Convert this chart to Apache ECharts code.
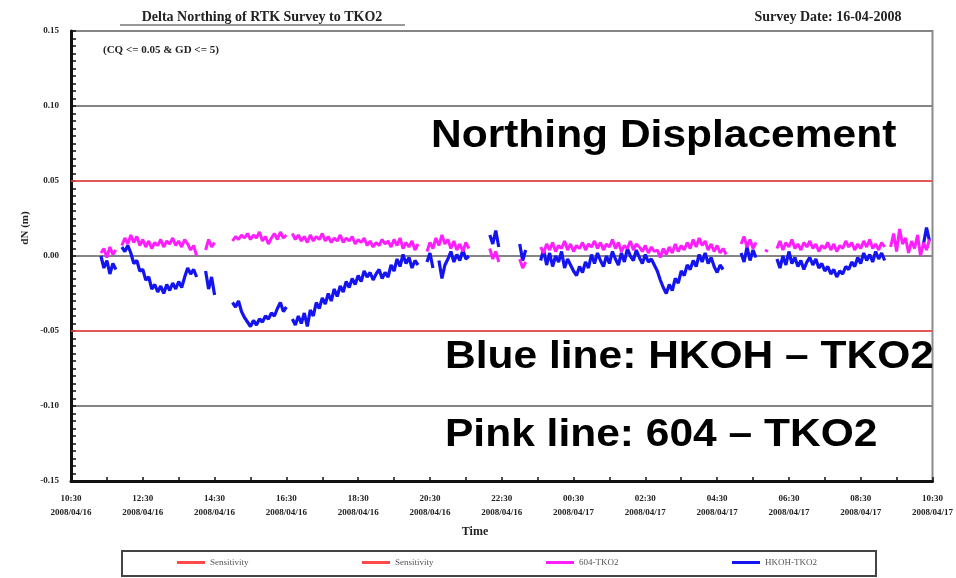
<!DOCTYPE html>
<html>
<head>
<meta charset="utf-8">
<script src="https://cdn.jsdelivr.net/npm/echarts@6/dist/echarts.min.js"></script>
<style>
  html, body { margin: 0; padding: 0; background: #ffffff; }
  #chart { width: 956px; height: 578px; }
</style>
</head>
<body>
<div id="chart"></div>
<script>
// Time axis: one label every two hours from 10:30 on 16 April to 10:30 on 17 April
const tickTimes = ['10:30', '12:30', '14:30', '16:30', '18:30', '20:30', '22:30',
                   '00:30', '02:30', '04:30', '06:30', '08:30', '10:30'];
const tickDates = ['2008/04/16', '2008/04/16', '2008/04/16', '2008/04/16', '2008/04/16', '2008/04/16', '2008/04/16',
                   '2008/04/17', '2008/04/17', '2008/04/17', '2008/04/17', '2008/04/17', '2008/04/17'];
const tickStepHours = 2;

// Epoch spacing of the RTK solutions, minutes (first epoch at 10:30)
const sampleMinutes = 5;

// Sensitivity band, metres
const sensitivityUpper = 0.05;
const sensitivityLower = -0.05;

// dN of HKOH relative to TKO2, millimetres, one row per hour; null = no fixed solution
const hkohTko2 = [
  null, null, null, null, null, null, null, null, null, null, 0, -8,
  -3, -12, -5, -9, null, 6, 3, 7, 2, -5, -3, -10,
  -9, -16, -14, -22, -19, -24, -20, -25, -19, -23, -18, -22,
  -17, -21, -14, -8, -12, -9, -14, null, null, -10, -22, -14,
  -26, null, null, null, null, null, -31, -34, -30, -37, -41, -44,
  -47, -43, -46, -42, -44, -40, -42, -38, -40, -35, -31, -37,
  -34, null, -42, -46, -40, -45, -38, -47, -36, -40, -31, -35,
  -28, -32, -25, -30, -22, -27, -20, -24, -17, -21, -15, -19,
  -13, -17, -10, -14, -11, -16, -12, -9, -15, -11, -14, -6,
  -10, -2, -7, 1, -5, -1, -8, -3, -6, null, null, -4,
  2, -8, null, -3, -15, -6, -2, 3, -4, 1, -3, 4,
  -2, 0, null, null, null, null, null, null, 14, 8, 17, 6,
  null, null, null, null, null, null, 8, -3, 4, null, null, null,
  null, -3, 4, -6, 2, -7, 0, -4, 3, -8, -2, -6,
  -10, -13, -7, -11, -4, -8, 1, -5, 2, -3, -7, 0,
  -5, 3, -2, -6, 2, -4, 5, 0, -3, 4, -1, -5,
  1, -4, -2, -6, -10, -16, -21, -25, -19, -23, -15, -18,
  -10, -13, -6, -9, -3, -7, 1, -4, 2, -5, -1, -7,
  -11, -6, -9, null, null, null, null, null, 2, -4, 6, -3,
  4, -1, null, null, null, null, null, null, -2, -8, 0, -6,
  3, -5, -1, -7, -3, -9, -4, -1, -6, -2, -8, -5,
  -10, -7, -12, -9, -14, -10, -12, -7, -9, -4, -7, -1,
  -5, 2, -3, 1, -4, 3, -2, 2, -3, null, null, null,
  null, null, null, null, null, null, null, null, null, 8, 19, 10,
  null
];

// dN of 604 relative to TKO2, millimetres, one row per hour
const s604Tko2 = [
  null, null, null, null, null, null, null, null, null, null, 2, 5,
  -1, 6, 1, 4, null, 7, 12, 8, 14, 9, 13, 7,
  11, 6, 10, 5, 9, 7, 11, 6, 10, 8, 12, 7,
  10, 6, 11, 8, 4, 7, 0, null, null, 4, 11, 6,
  9, null, null, null, null, null, 10, 13, 11, 14, 12, 15,
  11, 14, 12, 16, 10, 13, 8, 12, 15, 11, 16, 12,
  14, null, 15, 11, 14, 10, 13, 9, 14, 10, 13, 11,
  15, 10, 13, 9, 12, 10, 14, 9, 12, 10, 13, 8,
  11, 9, 12, 7, 10, 6, 9, 7, 11, 8, 10, 6,
  11, 7, 12, 5, 9, 6, 10, 4, 8, null, null, 3,
  9, 5, 12, 7, 14, 8, 11, 5, 10, 4, 8, 3,
  9, 5, null, null, null, null, null, null, 5, -2, 3, -4,
  null, null, null, null, null, null, -2, -8, -4, null, null, null,
  null, 6, 2, 8, 4, 9, 3, 7, 5, 10, 4, 8,
  3, 7, 5, 9, 4, 8, 6, 10, 5, 9, 4, 8,
  6, 11, 5, 9, 3, 7, 5, 10, 4, 8, 6, 3,
  7, 2, 6, 3, 4, -1, 5, 1, 6, 2, 8, 3,
  7, 4, 9, 5, 11, 6, 12, 7, 10, 4, 8, 3,
  7, 2, 5, 1, null, null, null, null, 8, 13, 6, 11,
  5, 9, null, null, 4, 3, null, null, 5, 10, 4, 9,
  6, 11, 5, 8, 4, 9, 6, 10, 5, 8, 3, 7,
  5, 9, 4, 8, 3, 7, 5, 10, 6, 9, 4, 8,
  5, 10, 6, 11, 5, 8, 4, 9, 6, null, 6, 15,
  3, 18, 8, 12, 2, 10, 5, 14, 0, 9, 4, 11,
  null
];

const spanHours = (tickTimes.length - 1) * tickStepHours;

// [hours since start, metres]; '-' leaves a gap in the line
function toPoints(mm) {
  return mm.map((v, i) => [i * sampleMinutes / 60, v === null ? '-' : v / 1000]);
}

const SERIF = '"Liberation Serif", "DejaVu Serif", serif';
const SANS = '"Liberation Sans", Arial, sans-serif';

const chart = echarts.init(document.getElementById('chart'), null, { renderer: 'canvas' });

const legendBase = {
  top: 558,
  icon: 'rect',
  itemWidth: 28,
  itemHeight: 3,
  padding: 0,
  selectedMode: false,
  textStyle: { fontFamily: SERIF, fontSize: 9, color: '#555' }
};

chart.setOption({
  animation: false,
  backgroundColor: '#ffffff',
  grid: {
    left: 71, right: 22, top: 31, bottom: 97,
    show: true, borderColor: '#8a8a8a', borderWidth: 2
  },
  xAxis: {
    type: 'value',
    min: 0, max: spanHours, interval: tickStepHours,
    axisLine: { show: true, onZero: false, lineStyle: { color: '#111', width: 3 } },
    axisTick: { show: true, inside: true, length: 4, lineStyle: { color: '#111', width: 1.5 } },
    minorTick: { show: true, splitNumber: 2, length: 4, lineStyle: { color: '#111', width: 1.5 } },
    splitLine: { show: false },
    axisLabel: {
      margin: 11,
      fontFamily: SERIF, fontSize: 9, fontWeight: 'bold', color: '#222', lineHeight: 14,
      showMinLabel: true, showMaxLabel: true,
      formatter: v => {
        const k = Math.round(v / tickStepHours);
        return tickTimes[k] + '\n' + tickDates[k];
      }
    }
  },
  yAxis: {
    type: 'value',
    min: -0.15, max: 0.15, interval: 0.05,
    axisLine: { show: true, onZero: false, lineStyle: { color: '#111', width: 3 } },
    axisTick: { show: true, inside: true, length: 5, lineStyle: { color: '#111', width: 1.5 } },
    minorTick: { show: true, splitNumber: 10, length: 5, lineStyle: { color: '#111', width: 1.5 } },
    splitLine: { show: true, lineStyle: { color: '#858585', width: 2 } },
    axisLabel: {
      margin: 12,
      fontFamily: SERIF, fontSize: 9, fontWeight: 'bold', color: '#222',
      formatter: v => v.toFixed(2)
    }
  },
  legend: [
    Object.assign({}, legendBase, { left: 177, data: ['Sensitivity'] }),
    Object.assign({}, legendBase, { left: 362, data: ['Sensitivity'] }),
    Object.assign({}, legendBase, { left: 546, data: ['604-TKO2'] }),
    Object.assign({}, legendBase, { left: 732, data: ['HKOH-TKO2'] })
  ],
  series: [
    {
      name: 'Sensitivity', type: 'line', symbol: 'none', silent: true,
      color: '#ff4a4a', lineStyle: { width: 1.5 },
      data: [[0, sensitivityUpper], [spanHours, sensitivityUpper]], z: 3
    },
    {
      name: 'Sensitivity', type: 'line', symbol: 'none', silent: true,
      color: '#ff4a4a', lineStyle: { width: 1.5 },
      data: [[0, sensitivityLower], [spanHours, sensitivityLower]], z: 3
    },
    {
      name: 'HKOH-TKO2', type: 'line', symbol: 'none', connectNulls: false,
      color: '#1414f0', lineStyle: { width: 3.2 },
      data: toPoints(hkohTko2), z: 4
    },
    {
      name: '604-TKO2', type: 'line', symbol: 'none', connectNulls: false,
      color: '#ff1eff', lineStyle: { width: 3 },
      data: toPoints(s604Tko2), z: 5
    }
  ],
  graphic: [
    { type: 'text', x: 262, y: 17, style: { text: 'Delta Northing of RTK Survey to TKO2', font: 'bold 14px ' + SERIF, fill: '#222', align: 'center', verticalAlign: 'middle' } },
    { type: 'line', shape: { x1: 120, y1: 25, x2: 405, y2: 25 }, style: { stroke: '#333', lineWidth: 1.2 } },
    { type: 'text', x: 828, y: 17, style: { text: 'Survey Date: 16-04-2008', font: 'bold 14px ' + SERIF, fill: '#222', align: 'center', verticalAlign: 'middle' } },
    { type: 'text', x: 103, y: 50, style: { text: '(CQ <= 0.05 & GD <= 5)', font: 'bold 11px ' + SERIF, fill: '#222', align: 'left', verticalAlign: 'middle' } },
    { type: 'text', x: 25, y: 228, rotation: Math.PI / 2, style: { text: 'dN (m)', font: 'bold 11px ' + SERIF, fill: '#222', align: 'center', verticalAlign: 'middle' } },
    { type: 'text', x: 475, y: 532, style: { text: 'Time', font: 'bold 12px ' + SERIF, fill: '#222', align: 'center', verticalAlign: 'middle' } },
    { type: 'text', x: 431, y: 136, scaleX: 1.09, z: 10, style: { text: 'Northing Displacement', font: 'bold 39px ' + SANS, fill: '#000', align: 'left', verticalAlign: 'middle' } },
    { type: 'text', x: 445, y: 357, scaleX: 1.09, z: 10, style: { text: 'Blue line: HKOH \u2013 TKO2', font: 'bold 39px ' + SANS, fill: '#000', align: 'left', verticalAlign: 'middle' } },
    { type: 'text', x: 445, y: 435, scaleX: 1.09, z: 10, style: { text: 'Pink line: 604 \u2013 TKO2', font: 'bold 39px ' + SANS, fill: '#000', align: 'left', verticalAlign: 'middle' } },
    { type: 'rect', shape: { x: 122, y: 551, width: 754, height: 25 }, style: { fill: 'none', stroke: '#444', lineWidth: 2 } }
  ]
});
</script>
</body>
</html>
